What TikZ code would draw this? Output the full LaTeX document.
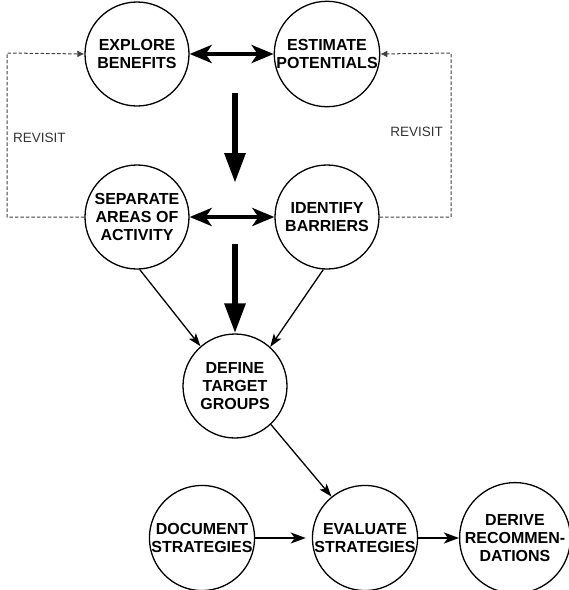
\documentclass[tikz,border=0pt]{standalone}
\usepackage{fontspec}
\setmainfont{Liberation Sans}
\usetikzlibrary{arrows.meta}
\begin{document}
\begin{tikzpicture}[x=1pt,y=-1pt,
  stepnode/.style={circle,draw,line width=1.3pt,minimum size=104pt,inner sep=0pt,
    align=center,font=\fontsize{16}{18}\selectfont\bfseries},
  thickarrow/.style={line width=6pt,-{Triangle[length=30pt,width=20pt]}},
  dblarrow/.style={line width=4pt,{Stealth[length=22pt,width=18pt,inset=6pt]}-{Stealth[length=22pt,width=18pt,inset=6pt]}},
  thinarrow/.style={line width=1.3pt,-{Stealth[length=13pt,width=9pt,inset=3pt]}},
  midarrow/.style={line width=2.2pt,-{Stealth[length=15pt,width=11pt,inset=4pt]}},
  revisit/.style={draw=black!75,line width=1pt,dash pattern=on 3.5pt off 2pt,-{Latex[length=7pt,width=7pt]}},
  revlabel/.style={font=\fontsize{13.5}{15}\selectfont,text=black!80,inner sep=0pt}]
\useasboundingbox (0,0) rectangle (569,590);
\node[stepnode] (EB) at (137,54) {EXPLORE\\BENEFITS};
\node[stepnode] (EP) at (327,54) {ESTIMATE\\POTENTIALS};
\node[stepnode] (SA) at (137,217) {SEPARATE\\AREAS OF\\ACTIVITY};
\node[stepnode] (IB) at (327,217) {IDENTIFY\\BARRIERS};
\node[stepnode] (DT) at (235,386) {DEFINE\\TARGET\\GROUPS};
\node[stepnode] (DS) at (202,538) {DOCUMENT\\STRATEGIES};
\node[stepnode] (ES) at (365,538) {EVALUATE\\STRATEGIES};
\node[stepnode] (DR) at (515,538) {DERIVE\\RECOMMEN-\\DATIONS};
\coordinate (a1s) at (235,93);
\coordinate (a1e) at (235,183);
\coordinate (a2s) at (235,244);
\draw[thickarrow] (a1s) -- (a1e);
\draw[thickarrow] (a2s) -- (DT.north);
\draw[dblarrow] (EB.east) -- (EP.west);
\draw[dblarrow] (SA.east) -- (IB.west);
\draw[thinarrow] (SA.-87) -- (DT.131);
\draw[thinarrow] (IB.-94) -- (DT.48);
\draw[thinarrow] (DT.-47) -- (ES.129);
\draw[midarrow,shorten >=6pt] (DS.east) -- (ES.west);
\draw[midarrow] (ES.east) -- (DR.west);
\coordinate (l1) at (7,217);
\coordinate (l2) at (7,53);
\coordinate (r1) at (451,217);
\coordinate (r2) at (451,53);
\draw[revisit] (SA.west) -- (l1) -- (l2) -- (EB.west);
\draw[revisit] (IB.east) -- (r1) -- (r2) -- (EP.east);
\node[revlabel,anchor=west] (rl) at (13,138) {REVISIT};
\node[revlabel,anchor=east] (rr) at (443,132) {REVISIT};
\end{tikzpicture}
\end{document}
